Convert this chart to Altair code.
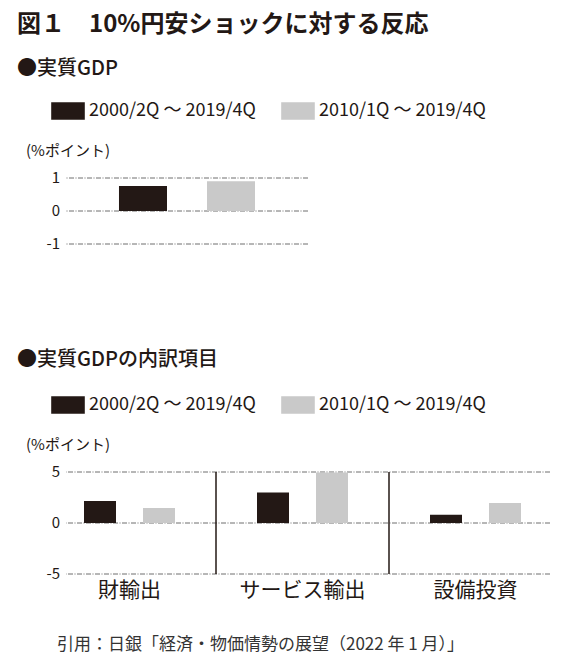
import altair as alt
import pandas as pd

FONT = "Noto Sans CJK JP"
INK = "#231815"
GREY = "#c9c9c9"
GRID = "#4a4a4a"

title_text = "図１　10%円安ショックに対する反応"
sub1_text = "●実質GDP"
sub2_text = "●実質GDPの内訳項目"
unit_text = "(%ポイント)"
source_text = "引用：日銀「経済・物価情勢の展望（2022 年 1 月）」"

series = ["2000/2Q ～ 2019/4Q", "2010/1Q ～ 2019/4Q"]
gdp_values = [0.76, 0.90]
categories = ["財輸出", "サービス輸出", "設備投資"]
comp_2000 = [2.15, 3.0, 0.8]
comp_2010 = [1.48, 4.95, 1.95]
top_ticks = [-1, 0, 1]
top_tick_labels = ["-1", "0", "1"]
bottom_ticks = [-5, 0, 5]
bottom_tick_labels = ["-5", "0", "5"]

df_top = pd.DataFrame({"series": series, "value": gdp_values})
df_bot = pd.DataFrame({
    "category": categories * 2,
    "series": [series[0]] * 3 + [series[1]] * 3,
    "value": comp_2000 + comp_2010,
})
df_sep = pd.DataFrame({"category": categories[1:]})
df_top_ticks = pd.DataFrame({"tick": top_ticks, "label": top_tick_labels})
df_bot_ticks = pd.DataFrame({"tick": bottom_ticks, "label": bottom_tick_labels})

color_scale = alt.Scale(domain=series, range=[INK, GREY])
rect_path = "M-1,-0.515L1,-0.515L1,0.515L-1,0.515Z"

hidden_axis = alt.Axis(labels=False, ticks=False, domain=False, grid=False, title=None)


def make_legend(ly):
    return alt.Legend(
        orient="none", legendX=-15, legendY=ly, direction="horizontal",
        title=None, symbolType=rect_path, symbolSize=1129, symbolStrokeWidth=0,
        symbolOpacity=1, labelFont=FONT, labelFontSize=18, labelColor=INK,
        labelOffset=4, columnPadding=25, labelLimit=300,
    )


def grid_layer(df):
    return alt.Chart(df).mark_rule(
        color=GRID, strokeWidth=0.8, strokeDash=[5, 1.5, 1, 1.5]
    ).encode(y=alt.Y("tick:Q", axis=hidden_axis))


def tick_label_layer(df):
    return alt.Chart(df).mark_text(
        align="right", baseline="middle", dx=-6, font=FONT, fontSize=15,
        color=INK,
    ).encode(y=alt.Y("tick:Q", axis=hidden_axis), x=alt.value(0), text="label:N")


def text_layer(txt, x, y, size, weight="normal", color=INK):
    return alt.Chart(pd.DataFrame({"t": [txt]})).mark_text(
        align="left", baseline="middle", font=FONT, fontSize=size,
        fontWeight=weight, color=color,
    ).encode(text="t:N", x=alt.value(x), y=alt.value(y))


top_bars = alt.Chart(df_top).mark_bar().encode(
    x=alt.X("series:N", sort=series, axis=None,
            scale=alt.Scale(paddingInner=0.4545, paddingOuter=0.602)),
    y=alt.Y("value:Q", scale=alt.Scale(domain=[-1, 1]), axis=hidden_axis),
    color=alt.Color("series:N", scale=color_scale, legend=make_legend(-84)),
)

top = alt.layer(
    grid_layer(df_top_ticks),
    top_bars,
    tick_label_layer(df_top_ticks),
    text_layer(unit_text, -40, -27, 15),
    text_layer(title_text, -49, -153, 24, "bold"),
    text_layer(sub1_text, -49, -109, 20, 500),
).properties(width=242, height=66)

bot_bars = alt.Chart(df_bot).mark_bar().encode(
    x=alt.X("category:N", sort=categories,
            scale=alt.Scale(range=[-23, 496], paddingInner=0, paddingOuter=0),
            axis=alt.Axis(title=None, domain=False, ticks=False, labelAngle=0,
                          labelFont=FONT, labelFontSize=21, labelColor=INK,
                          labelPadding=5)),
    xOffset=alt.XOffset("series:N", sort=series,
                        scale=alt.Scale(paddingInner=0.4576, paddingOuter=0.695)),
    y=alt.Y("value:Q", scale=alt.Scale(domain=[-5, 5]), axis=hidden_axis),
    color=alt.Color("series:N", scale=color_scale, legend=make_legend(-84)),
)

separators = alt.Chart(df_sep).mark_rule(color=INK, strokeWidth=1.5).encode(
    x=alt.X("category:N", sort=categories, bandPosition=0),
    y=alt.datum(-5),
    y2=alt.datum(5),
)

bottom = alt.layer(
    grid_layer(df_bot_ticks),
    bot_bars,
    separators,
    tick_label_layer(df_bot_ticks),
    text_layer(unit_text, -40, -27, 15),
    text_layer(sub2_text, -49, -112, 20, 500),
    text_layer(source_text, -9, 173, 17, "normal", "#333333"),
).properties(width=484, height=102)

chart = alt.vconcat(top, bottom, spacing=98).resolve_scale(
    color="independent"
).resolve_legend(color="independent").properties(
    padding={"left": 9, "top": 5, "right": -31, "bottom": 3}
).configure(background="white").configure_view(strokeWidth=0)

chart.save("out.html", embed_options={"renderer": "svg", "actions": False})
